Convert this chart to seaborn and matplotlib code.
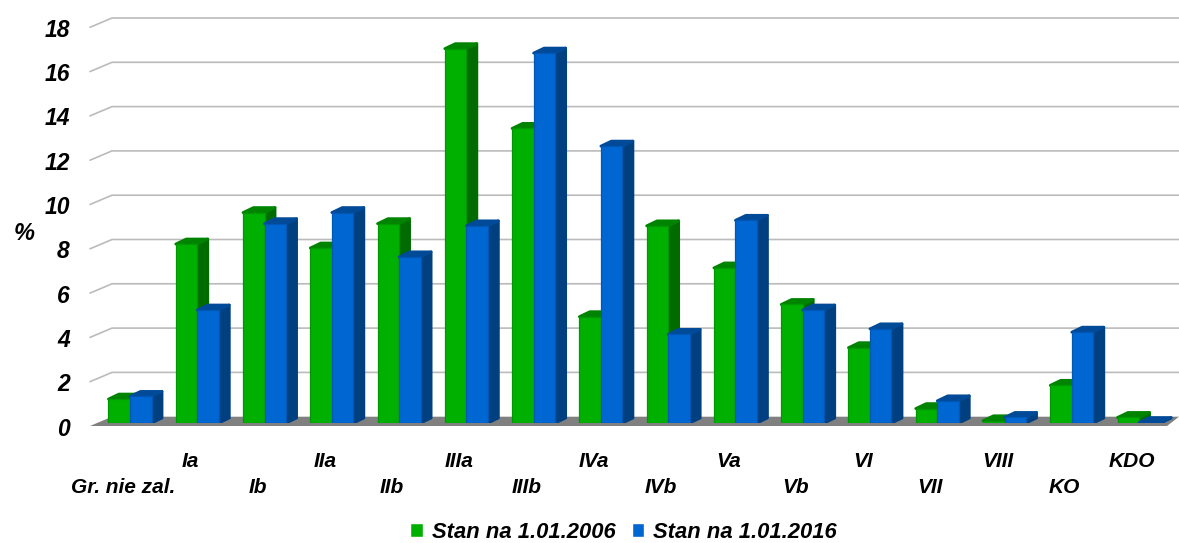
import numpy as np
import pandas as pd
import seaborn as sns
import matplotlib.pyplot as plt
from matplotlib.transforms import ScaledTranslation

groups = ['Gr. nie zal.', 'Ia', 'Ib', 'IIa', 'IIb', 'IIIa', 'IIIb', 'IVa', 'IVb', 'Va', 'Vb', 'VI', 'VII', 'VIII', 'KO', 'KDO']
stan_2006 = [1.08, 8.08, 9.5, 7.9, 9.0, 16.9, 13.3, 4.8, 8.9, 7.0, 5.35, 3.4, 0.65, 0.1, 1.7, 0.25]
stan_2016 = [1.2, 5.1, 9.0, 9.5, 7.5, 8.9, 16.7, 12.5, 4.0, 9.15, 5.1, 4.25, 1.0, 0.25, 4.1, 0.02]
series = ['Stan na 1.01.2006', 'Stan na 1.01.2016']
yticks = [0, 2, 4, 6, 8, 10, 12, 14, 16, 18]

front = {series[0]: '#00B000', series[1]: '#0066D2'}
edge = {series[0]: '#009800', series[1]: '#0058B4'}
side = {series[0]: '#006C00', series[1]: '#003F80'}
top = {series[0]: '#008400', series[1]: '#004A98'}

W, H = 1179, 543
group_px = 67.27
unit_px = 22.15
base_y = 423
first_x = 130

sns.set_style('white')
plt.rcParams['font.family'] = ['Liberation Sans', 'DejaVu Sans']
plt.rcParams['font.weight'] = 'bold'
plt.rcParams['font.style'] = 'italic'
plt.rcParams['text.color'] = 'black'
plt.rcParams['axes.labelcolor'] = 'black'
plt.rcParams['xtick.labelcolor'] = 'black'
plt.rcParams['ytick.labelcolor'] = 'black'

fig = plt.figure(figsize=(W / 100, H / 100), dpi=100)
ax = fig.add_axes([90 / W, (H - base_y) / H, (W - 90) / W, base_y / H])
ax.patch.set_alpha(0)

data = pd.DataFrame({'group': groups, series[0]: stan_2006, series[1]: stan_2016})
data = data.melt(id_vars='group', var_name='stan', value_name='value')
sns.barplot(data=data, x='group', y='value', hue='stan', palette=front, saturation=1, width=0.64, gap=0, ax=ax, zorder=3)

ax.set_xlim((90 - first_x) / group_px, (W - first_x) / group_px)
ax.set_ylim(0, base_y / unit_px)
sns.despine(ax=ax, left=True, bottom=True)

# pixels to data units
px = 1 / group_px
py = 1 / unit_px

# floor and back wall lines
ax.fill([(90 - first_x) * px, (112 - first_x) * px, (1179 - first_x) * px, (1167 - first_x) * px],
        [-3 * py, 6.3 * py, 6.3 * py, -3 * py], color='#808080', lw=0, zorder=1, clip_on=False)
for v in yticks[1:]:
    ax.plot([(90 - first_x) * px, (112 - first_x) * px, (1179 - first_x) * px],
            [v - 3 * py, v + 6.3 * py, v + 6.3 * py], color='#BBBBBB', lw=1.2, zorder=1, clip_on=False)

# depth of the bars, taken from what seaborn drew
dx = 10.5 * px
dy = 5 * py
for n, (cont, name) in enumerate(zip(ax.containers, series)):
    for bar in cont:
        x0 = bar.get_x()
        x1 = x0 + bar.get_width()
        h = bar.get_height()
        ax.fill([x1, x1 + dx, x1 + dx, x1], [0, dy, h + dy, h], color=side[name], lw=2, joinstyle='round', zorder=3 + 2 * n)
        ax.fill([x0, x0 + dx, x1 + dx, x1], [h, h + dy, h + dy, h], color=top[name], lw=2, joinstyle='round', zorder=3 + 2 * n)
        bar.set_edgecolor(edge[name])
        bar.set_linewidth(0.9)
        bar.set_joinstyle('round')
        bar.set_zorder(4 + 2 * n)

ax.set_yticks(yticks)
ax.set_xlabel('')
ax.set_ylabel('%', rotation=0, fontsize=17, fontweight='bold', va='center', ha='center')
ax.yaxis.set_label_coords((24 - 90) / (W - 90), (base_y - 233) / base_y)
ax.tick_params(axis='y', length=0, pad=14.5, labelsize=16.5)
ax.tick_params(axis='x', length=0, labelsize=15)

shift_y = ScaledTranslation(0, -3.5 / 100, fig.dpi_scale_trans)
for lab in ax.get_yticklabels():
    lab.set_transform(lab.get_transform() + shift_y)

shift_x = ScaledTranslation(-7 / 100, 0, fig.dpi_scale_trans)
for i, tick in enumerate(ax.xaxis.get_major_ticks()):
    tick.set_pad(21 if i % 2 else 39.5)
    tick.label1.set_transform(tick.label1.get_transform() + shift_x)

sns.move_legend(ax, 'center', bbox_to_anchor=(623.5 / W, 1 - 532 / H), bbox_transform=fig.transFigure,
                ncol=2, title=None, frameon=False, fontsize=15.8, handlelength=0.58, handleheight=0.6,
                handletextpad=0.4, columnspacing=0.75)

fig.savefig('out.png', dpi=100)
